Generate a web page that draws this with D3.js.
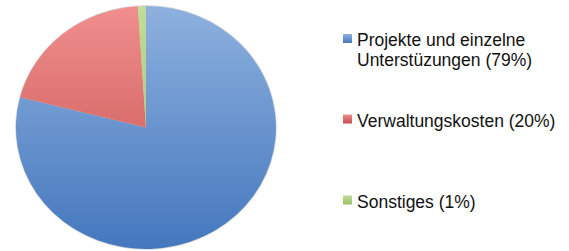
<!DOCTYPE html>
<html>
<head>
<meta charset="utf-8">
<script src="https://cdn.jsdelivr.net/npm/d3@7"></script>
<style>
  html, body { margin: 0; padding: 0; background: #fff; }
  svg { display: block; }
</style>
</head>
<body>
<div class="plotWin"></div>
<script>
// chart data
var categories = ["Projekte und einzelne Unterstüzungen", "Verwaltungskosten", "Sonstiges"];
var values = [79, 20, 1];
var legendLines = [
  ["Projekte und einzelne", "Unterstüzungen (79%)"],
  ["Verwaltungskosten (20%)"],
  ["Sonstiges (1%)"]
];
var colorsTop = ["#8eb1de", "#f08f8e", "#c0dc9a"];
var colorsBottom = ["#4477be", "#c24c4a", "#9cc066"];

var SVG_WIDTH = 569,
  SVG_HEIGHT = 251,
  CX = 146,
  CY = 127.5,
  RX = 130,
  RY = 121.5;

var svg = d3.select(".plotWin")
  .append("svg")
  .attr("width", SVG_WIDTH)
  .attr("height", SVG_HEIGHT);

var defs = svg.append("defs");

// vertical gradients for the slices, spanning the whole pie
categories.forEach(function(c, i) {
  var g = defs.append("linearGradient")
    .attr("id", "grad" + i)
    .attr("gradientUnits", "userSpaceOnUse")
    .attr("x1", 0).attr("y1", -1)
    .attr("x2", 0).attr("y2", 1);
  g.append("stop").attr("offset", "0%").attr("stop-color", colorsTop[i]);
  g.append("stop").attr("offset", "100%").attr("stop-color", colorsBottom[i]);

  var lg = defs.append("linearGradient")
    .attr("id", "lgrad" + i)
    .attr("x1", 0).attr("y1", 0)
    .attr("x2", 0).attr("y2", 1);
  lg.append("stop").attr("offset", "0%").attr("stop-color", colorsTop[i]);
  lg.append("stop").attr("offset", "100%").attr("stop-color", colorsBottom[i]);
});

var pie = d3.pie().sort(null).value(function(d) { return d; });
var arc = d3.arc().innerRadius(0).outerRadius(1);

// unit pie scaled into a slightly wide ellipse
var pieG = svg.append("g")
  .attr("transform", "translate(" + CX + "," + CY + ") scale(" + RX + "," + RY + ")");

pieG.append("ellipse")
  .attr("cx", 0).attr("cy", 0)
  .attr("rx", 1.006).attr("ry", 1.006)
  .attr("fill", "#d8d8d8");

pieG.selectAll("path.slice")
  .data(pie(values))
  .enter()
  .append("path")
  .attr("class", "slice")
  .attr("d", arc)
  .attr("fill", function(d, i) { return "url(#grad" + i + ")"; });

// legend
var legendY = [46, 126.5, 207.5];
var LINE_H = 19.5;

var items = svg.selectAll("g.legend")
  .data(legendLines)
  .enter()
  .append("g")
  .attr("class", "legend")
  .attr("transform", function(d, i) { return "translate(343," + legendY[i] + ")"; });

items.append("rect")
  .attr("x", 0)
  .attr("y", -12)
  .attr("width", 9)
  .attr("height", 9)
  .attr("fill", function(d, i) { return "url(#lgrad" + i + ")"; });

items.selectAll("text")
  .data(function(d) { return d; })
  .enter()
  .append("text")
  .attr("x", 14)
  .attr("y", function(d, j) { return j * LINE_H; })
  .style("font-family", "'Liberation Sans', Arial, sans-serif")
  .style("font-size", "17.5px")
  .attr("fill", "#111")
  .text(function(d) { return d; });
</script>
</body>
</html>
